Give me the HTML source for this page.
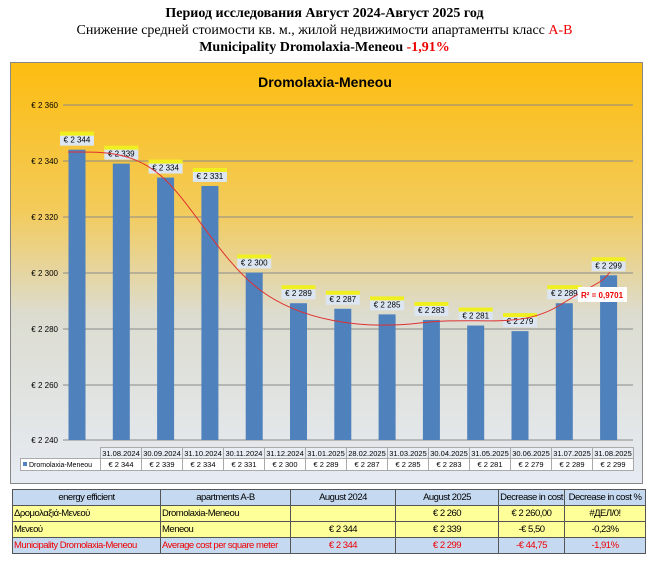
<!DOCTYPE html><html><head><meta charset="utf-8"><style>
body{margin:0;width:649px;height:575px;background:#fff;overflow:hidden;font-family:"Liberation Sans",sans-serif}
.t{position:absolute;left:0;width:649px;text-align:center;font-size:14px;color:#000;font-family:"Liberation Serif",serif}
table{position:absolute;left:12px;top:489px;border-collapse:collapse;font-family:"Liberation Sans","DejaVu Sans",sans-serif;font-size:9.5px;letter-spacing:-0.5px;table-layout:fixed;width:633px}
td{border:1px solid #555;height:15px;padding:0 1px;white-space:nowrap;overflow:hidden}
</style></head><body>
<div class="t" style="top:6px;font-weight:bold">Период исследования Август 2024-Август 2025 год</div>
<div class="t" style="top:23px">Снижение средней стоимости кв. м., жилой недвижимости апартаменты класс <span style="color:#e00">A-B</span></div>
<div class="t" style="top:40px;font-weight:bold">Municipality Dromolaxia-Meneou <span style="color:#e00">-1,91%</span></div>
<svg style="position:absolute;left:0;top:0" width="649" height="489" font-family="Liberation Sans,sans-serif">
<defs><linearGradient id="g" x1="0" y1="0" x2="0" y2="1"><stop offset="0" stop-color="#fdbd10"/><stop offset="0.35" stop-color="#f3cb5a"/><stop offset="0.6" stop-color="#dcdcd0"/><stop offset="1" stop-color="#e6ebf3"/></linearGradient></defs>
<rect x="10.5" y="62.5" width="632" height="421" fill="url(#g)" stroke="#888"/>
<text x="325" y="87" text-anchor="middle" font-weight="bold" font-size="14">Dromolaxia-Meneou</text>
<g stroke="#8a8a8a" stroke-width="1">
<line x1="63" y1="105" x2="633" y2="105"/><line x1="63" y1="161" x2="633" y2="161"/><line x1="63" y1="217" x2="633" y2="217"/><line x1="63" y1="273" x2="633" y2="273"/><line x1="63" y1="329" x2="633" y2="329"/><line x1="63" y1="385" x2="633" y2="385"/><line x1="63" y1="440" x2="633" y2="440"/>
</g>
<g font-size="8" text-anchor="end" fill="#000">
<text x="58" y="108">€ 2 360</text><text x="58" y="164">€ 2 340</text><text x="58" y="220">€ 2 320</text><text x="58" y="276">€ 2 300</text><text x="58" y="332">€ 2 280</text><text x="58" y="388">€ 2 260</text><text x="58" y="443">€ 2 240</text>
</g>
<g id="bars"></g>
<path d="M68,152 C100,152 130,150 160,175 S220,260 260,290 S360,330 420,323 S520,330 560,305 S600,285 610,272" fill="none" stroke="#e03030" stroke-width="1"/>
<rect x="578" y="287" width="49" height="15" fill="#fff"/><text x="602" y="298" text-anchor="middle" font-size="8" font-weight="bold" fill="#e00">R² = 0,9701</text>
<g id="tbl"></g>
</svg>
<script>
var v=[2344,2339,2334,2331,2300,2289,2287,2285,2283,2281,2279,2289,2299];
var d=["31.08.2024","30.09.2024","31.10.2024","30.11.2024","31.12.2024","31.01.2025","28.02.2025","31.03.2025","30.04.2025","31.05.2025","30.06.2025","31.07.2025","31.08.2025"];
var s="";
v.forEach(function(x,i){var c=77+i*44.3,y=440-(x-2240)*2.7917;
s+='<rect x="'+(c-8.5)+'" y="'+y+'" width="17" height="'+(440-y)+'" fill="#4f81bd"/>';
var ly=y-16;s+='<rect x="'+(c-17)+'" y="'+ly+'" width="34" height="12" fill="#dce6f2"/><rect x="'+(c-17)+'" y="'+(ly-2)+'" width="34" height="4" fill="#f0f020"/>';
s+='<text x="'+c+'" y="'+(ly+9)+'" text-anchor="middle" font-size="8">€ 2 '+String(x).slice(1)+'</text>';});
document.getElementById("bars").innerHTML=s;
var t='<rect x="20.5" y="458.5" width="80" height="12" fill="#fff" stroke="#aaa"/><rect x="23" y="462" width="4" height="4" fill="#4f81bd"/><text x="29" y="467" font-size="7">Dromolaxia-Meneou</text>';
for(var i=0;i<13;i++){var x=100.5+i*41;
t+='<rect x="'+x+'" y="447.5" width="41" height="11" fill="#e8edf4" stroke="#aaa"/><rect x="'+x+'" y="458.5" width="41" height="12" fill="#fff" stroke="#aaa"/>';
t+='<text x="'+(x+20.5)+'" y="456" text-anchor="middle" font-size="7.5">'+d[i]+'</text><text x="'+(x+20.5)+'" y="467" text-anchor="middle" font-size="7.5">€ 2 '+String(v[i]).slice(1)+'</text>';}
document.getElementById("tbl").innerHTML=t;
</script>
<table>
<colgroup><col style="width:148px"><col style="width:130px"><col style="width:105px"><col style="width:103px"><col style="width:66px"><col style="width:81px"></colgroup>
<tr style="background:#c5d9f1;text-align:center"><td>energy efficient</td><td>apartments A-B</td><td>August 2024</td><td>August 2025</td><td>Decrease in cost</td><td>Decrease in cost %</td></tr>
<tr style="background:#ffff99"><td>Δρομολαξιά-Μενεού</td><td>Dromolaxia-Meneou</td><td></td><td align="center">€ 2 260</td><td align="center">€ 2 260,00</td><td align="center">#ДЕЛ/0!</td></tr>
<tr style="background:#ffff99"><td>Μενεού</td><td>Meneou</td><td align="center">€ 2 344</td><td align="center">€ 2 339</td><td align="center">-€ 5,50</td><td align="center">-0,23%</td></tr>
<tr style="background:#c5d9f1;color:#e00"><td>Municipality Dromolaxia-Meneou</td><td>Average cost per square meter</td><td align="center">€ 2 344</td><td align="center">€ 2 299</td><td align="center">-€ 44,75</td><td align="center">-1,91%</td></tr>
</table>
</body></html>
